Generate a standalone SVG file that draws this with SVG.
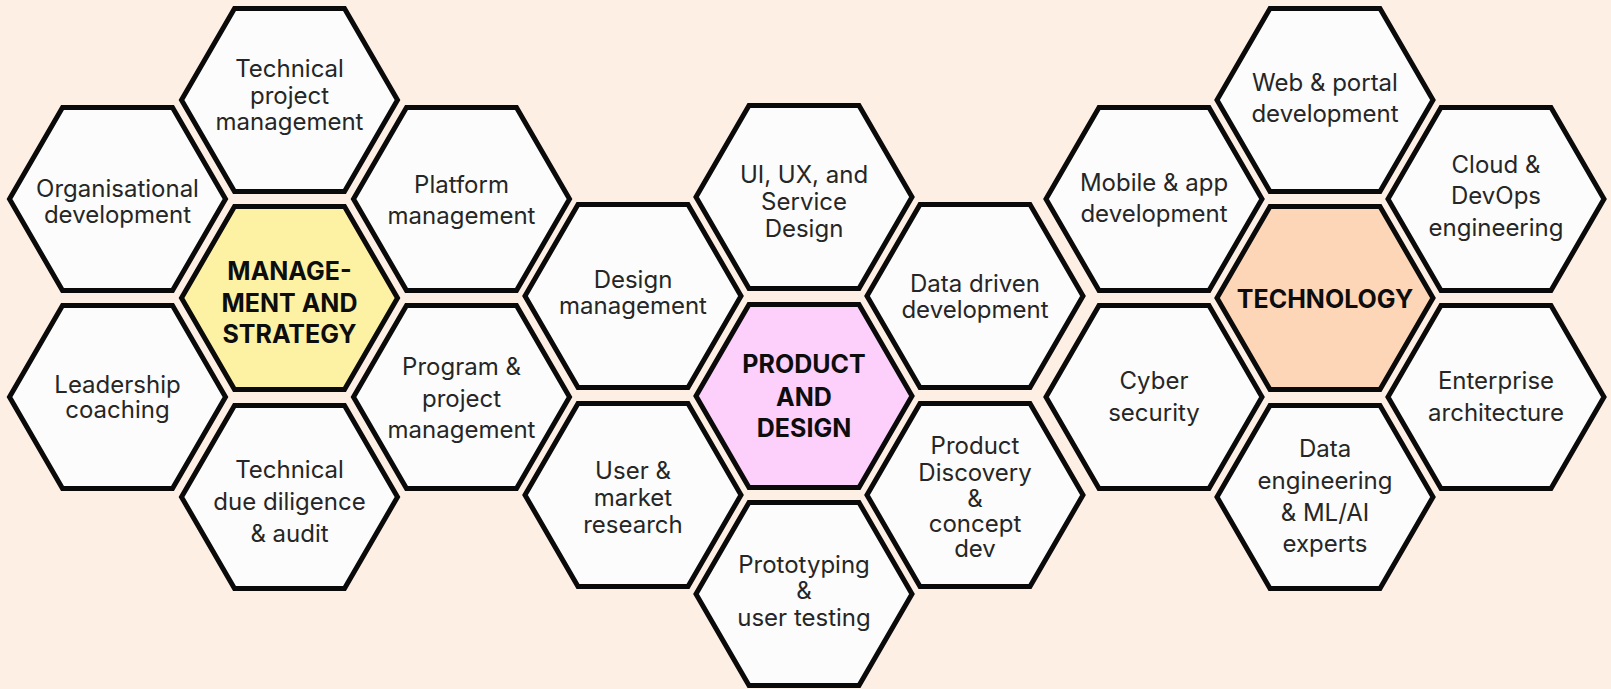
<svg xmlns="http://www.w3.org/2000/svg" xmlns:xlink="http://www.w3.org/1999/xlink" width="1611" height="689" viewBox="0 0 1611 689">
<style>
.hx{fill:#fcfcfc;stroke:#0a0a0a;stroke-width:5;stroke-linejoin:miter}
.y{fill:#fdf2a3}.p{fill:#fcd0fb}.o{fill:#fdd6b7}
.t{font-family:Inter,"Liberation Sans",Arial,sans-serif;font-size:24px;fill:#262626;text-anchor:middle}
.b{font-family:Inter,"Liberation Sans",Arial,sans-serif;font-size:25px;font-weight:700;fill:#0d0d0d;text-anchor:middle}
</style>
<defs>
<polygon id="hex" points="-108,0 -55,-91.5 55,-91.5 108,0 55,91.5 -55,91.5"/>
</defs>
<rect width="1611" height="689" fill="#feefe5"/>
<g id="connectors"/>
<!-- Left cluster -->
<g id="org"><use xlink:href="#hex" href="#hex" class="hx" x="117.5" y="199"/><text class="t" x="117.5" y="197">Organisational</text><text class="t" x="117.5" y="223">development</text></g>
<g id="tpm"><use xlink:href="#hex" href="#hex" class="hx" x="289.5" y="100"/><text class="t" x="289.5" y="77">Technical</text><text class="t" x="289.5" y="103.5">project</text><text class="t" x="289.5" y="130">management</text></g>
<g id="platform"><use xlink:href="#hex" href="#hex" class="hx" x="461.5" y="199"/><text class="t" x="461.5" y="193">Platform</text><text class="t" x="461.5" y="224">management</text></g>
<g id="mgmt"><use xlink:href="#hex" href="#hex" class="hx y" x="289.5" y="298"/><text class="b" x="289.5" y="280">MANAGE-</text><text class="b" x="289.5" y="312">MENT AND</text><text class="b" x="289.5" y="343">STRATEGY</text></g>
<g id="leadership"><use xlink:href="#hex" href="#hex" class="hx" x="117.5" y="397"/><text class="t" x="117.5" y="393">Leadership</text><text class="t" x="117.5" y="418">coaching</text></g>
<g id="program"><use xlink:href="#hex" href="#hex" class="hx" x="461.5" y="397"/><text class="t" x="461.5" y="375">Program &amp;</text><text class="t" x="461.5" y="407">project</text><text class="t" x="461.5" y="438">management</text></g>
<g id="tdd"><use xlink:href="#hex" href="#hex" class="hx" x="289.5" y="497"/><text class="t" x="289.5" y="478">Technical</text><text class="t" x="289.5" y="510">due diligence</text><text class="t" x="289.5" y="542">&amp; audit</text></g>
<!-- Middle cluster -->
<g id="uiux"><use xlink:href="#hex" href="#hex" class="hx" x="804" y="197"/><text class="t" x="804" y="183">UI, UX, and</text><text class="t" x="804" y="209.5">Service</text><text class="t" x="804" y="237">Design</text></g>
<g id="designmgmt"><use xlink:href="#hex" href="#hex" class="hx" x="633" y="296"/><text class="t" x="633" y="288">Design</text><text class="t" x="633" y="314">management</text></g>
<g id="datadriven"><use xlink:href="#hex" href="#hex" class="hx" x="975" y="296"/><text class="t" x="975" y="292">Data driven</text><text class="t" x="975" y="318">development</text></g>
<g id="product"><use xlink:href="#hex" href="#hex" class="hx p" x="804" y="396"/><text class="b" x="804" y="373">PRODUCT</text><text class="b" x="804" y="406">AND</text><text class="b" x="804" y="437">DESIGN</text></g>
<g id="usermarket"><use xlink:href="#hex" href="#hex" class="hx" x="633" y="495"/><text class="t" x="633" y="479">User &amp;</text><text class="t" x="633" y="506">market</text><text class="t" x="633" y="533">research</text></g>
<g id="proddisc"><use xlink:href="#hex" href="#hex" class="hx" x="975" y="495"/><text class="t" x="975" y="454">Product</text><text class="t" x="975" y="481">Discovery</text><text class="t" x="975" y="507">&amp;</text><text class="t" x="975" y="532">concept</text><text class="t" x="975" y="557">dev</text></g>
<g id="proto"><use xlink:href="#hex" href="#hex" class="hx" x="804" y="594"/><text class="t" x="804" y="573">Prototyping</text><text class="t" x="804" y="598.5">&amp;</text><text class="t" x="804" y="626">user testing</text></g>
<!-- Right cluster -->
<g id="web"><use xlink:href="#hex" href="#hex" class="hx" x="1325" y="100"/><text class="t" x="1325" y="91">Web &amp; portal</text><text class="t" x="1325" y="122">development</text></g>
<g id="mobile"><use xlink:href="#hex" href="#hex" class="hx" x="1154" y="199"/><text class="t" x="1154" y="191">Mobile &amp; app</text><text class="t" x="1154" y="222">development</text></g>
<g id="cloud"><use xlink:href="#hex" href="#hex" class="hx" x="1496" y="199"/><text class="t" x="1496" y="173">Cloud &amp;</text><text class="t" x="1496" y="204">DevOps</text><text class="t" x="1496" y="236">engineering</text></g>
<g id="technology"><use xlink:href="#hex" href="#hex" class="hx o" x="1325" y="298"/><text class="b" x="1325" y="308">TECHNOLOGY</text></g>
<g id="cyber"><use xlink:href="#hex" href="#hex" class="hx" x="1154" y="397"/><text class="t" x="1154" y="389">Cyber</text><text class="t" x="1154" y="421">security</text></g>
<g id="enterprise"><use xlink:href="#hex" href="#hex" class="hx" x="1496" y="397"/><text class="t" x="1496" y="389">Enterprise</text><text class="t" x="1496" y="421">architecture</text></g>
<g id="dataeng"><use xlink:href="#hex" href="#hex" class="hx" x="1325" y="497"/><text class="t" x="1325" y="457">Data</text><text class="t" x="1325" y="489">engineering</text><text class="t" x="1325" y="521">&amp; ML/AI</text><text class="t" x="1325" y="552">experts</text></g>
</svg>
